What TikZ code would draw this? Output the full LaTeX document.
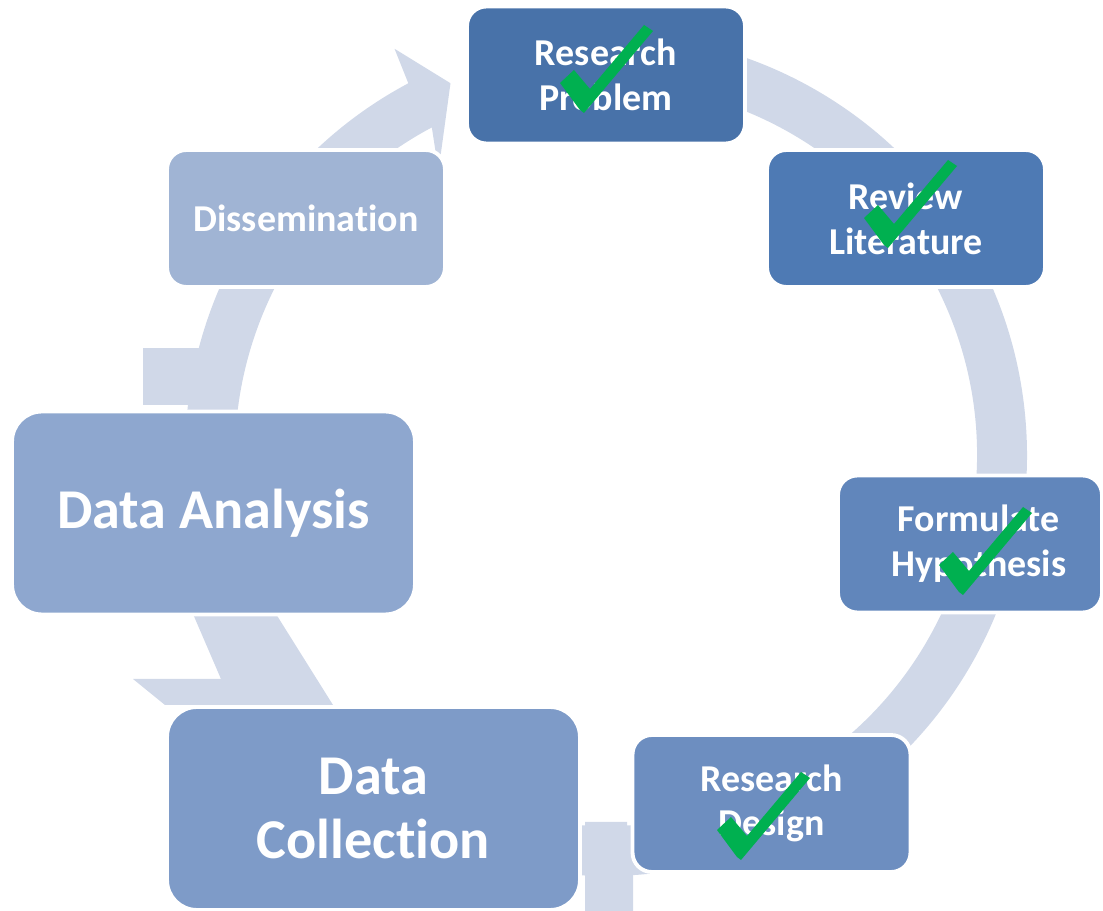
\documentclass[tikz,border=0pt]{standalone}
\usepackage{fontspec}
\setmainfont{Carlito}[Ligatures=NoCommon]
\usepackage{tikz}
\usetikzlibrary{calc}
\definecolor{ringblue}{RGB}{208,216,232}
\definecolor{probblue}{RGB}{72,114,169}
\definecolor{litblue}{RGB}{78,122,180}
\definecolor{hypblue}{RGB}{97,134,187}
\definecolor{designblue}{RGB}{109,142,192}
\definecolor{collblue}{RGB}{126,155,200}
\definecolor{analblue}{RGB}{142,167,207}
\definecolor{dissblue}{RGB}{160,180,212}
\definecolor{tickgreen}{RGB}{0,176,80}
\newcommand{\smallstage}{\fontsize{21.6}{25.5}\selectfont\bfseries}
\newcommand{\bigstage}{\fontsize{32}{36}\selectfont\bfseries}

\begin{document}
\begin{tikzpicture}[x=0.02cm, y=0.02cm]
% Define styles
\tikzset{
  stage/.style={draw=white, line width=2.2pt, rounded corners=11pt, text=white,
    align=center, inner sep=0pt, font=\smallstage,
    minimum width=5.56cm, minimum height=2.74cm},
  big stage/.style={stage, rounded corners=17pt, font=\bigstage, minimum height=4.06cm},
  ring/.style={fill=ringblue},
  tick/.pic={\fill[tickgreen] (1,-3) -- (-3,0) -- (-23,27) -- (-9,40) -- (7,21)
    -- (61,85) -- (70,79) -- cycle;}
}

% Parameters
\def\rout{421} % outer radius of the cycle arrow
\def\rin{371}  % inner radius

\useasboundingbox (0,0) rectangle (1103,-911);

% Draw cycle arrow
\begin{scope}[shift={(606,-455)}]
  \fill[ring] (95:\rout) arc[start angle=95, end angle=-242, radius=\rout]
    -- (117.5:458) -- (112.7:403) -- (120.5:330) -- (118:\rin)
    arc[start angle=-242, end angle=95, radius=\rin] -- cycle;
\end{scope}

% Arrow pieces
\fill[ring] (143,-348) rectangle (212,-405);
\fill[ring] (193,-614) -- (276,-614) -- (333,-705) -- (165,-705) -- (133,-679)
  -- (221,-679) -- cycle;
\fill[ring] (585,-822) -- (627,-822) -- (627,-842) -- (633,-842) -- (633,-911)
  -- (585,-911) -- cycle;

% Stages
\node[stage, fill=probblue] (prob) at (606,-75) {Research\\Problem};
\node[stage, fill=litblue] (lit) at (906,-218.5) {Review\\Literature};
\node[stage, fill=hypblue, minimum width=5.28cm] (hyp) at (970,-544) {\hspace*{10pt}Formulate\\\hspace*{10pt}Hypothesis};
\node[stage, fill=designblue] (design) at (771.5,-803.5) {Research\\Design};
\node[big stage, fill=collblue, minimum width=8.26cm] (coll) at (373.5,-808.5) {Data\\Collection};
\node[big stage, fill=analblue, minimum width=8.06cm] (anal) at (213.5,-513) {Data Analysis};
\node[stage, fill=dissblue] (diss) at (306,-218.5) {Dissemination};

% Checks
\pic at (583,-110) {tick};
\pic at (887,-245) {tick};
\pic at (962,-592) {tick};
\pic at (740,-857) {tick};
\end{tikzpicture}
\end{document}
